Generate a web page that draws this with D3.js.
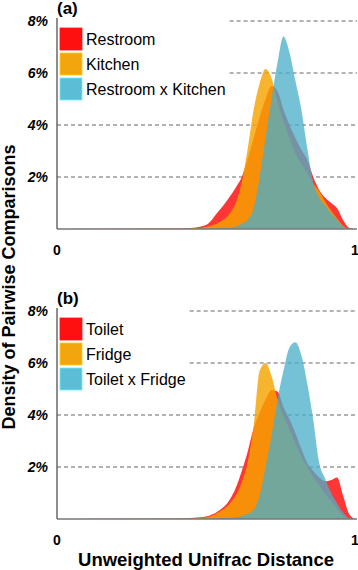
<!DOCTYPE html>
<html>
<head>
<meta charset="utf-8">
<script src="https://cdn.jsdelivr.net/npm/d3@7"></script>
<style>
  body { margin: 0; background: #fff; }
  svg { display: block; font-family: "Liberation Sans", Arial, sans-serif; }
</style>
</head>
<body>
<script>
// distance grid shared by all curves
const distance = [0, 0.40, 0.46, 0.50, 0.54, 0.58, 0.60, 0.62, 0.64, 0.66, 0.68, 0.70, 0.72, 0.74,
  0.76, 0.78, 0.80, 0.82, 0.84, 0.86, 0.88, 0.90, 0.92, 0.94, 0.96, 0.98, 1.0];

// panel (a) densities, percent
const restroom = [0, 0.02, 0.05, 0.15, 0.65, 1.25, 1.6, 2.0, 2.7, 3.5, 4.3, 5.0, 5.5, 5.3,
  4.6, 4.0, 3.5, 3.05, 2.65, 2.0, 1.5, 1.2, 1.0, 0.8, 0.35, 0.05, 0];
const kitchen = [0, 0.01, 0.03, 0.08, 0.23, 0.6, 1.0, 1.8, 3.1, 4.6, 5.6, 6.15, 5.8, 4.9,
  4.15, 3.5, 2.9, 2.5, 2.15, 1.75, 1.45, 1.05, 0.7, 0.4, 0.12, 0.02, 0];
const restroomKitchen = [0, 0, 0, 0.01, 0.02, 0.05, 0.1, 0.2, 0.35, 0.8, 2.0, 3.5, 5.0, 6.4,
  7.4, 6.8, 5.7, 4.6, 3.1, 1.8, 1.2, 0.9, 0.6, 0.35, 0.1, 0.02, 0];

// panel (b) densities, percent
const toilet = [0, 0.02, 0.05, 0.1, 0.3, 0.75, 1.2, 1.85, 2.6, 3.5, 4.1, 4.6, 4.95, 4.9,
  4.3, 3.85, 3.3, 2.7, 2.15, 1.85, 1.6, 1.45, 1.5, 1.6, 0.9, 0.2, 0];
const fridge = [0, 0.01, 0.03, 0.06, 0.25, 0.6, 0.9, 1.4, 2.2, 3.6, 5.7, 6.0, 5.5, 4.6,
  3.95, 3.45, 2.9, 2.4, 2.0, 1.6, 1.3, 0.95, 0.68, 0.4, 0.12, 0.02, 0];
const toiletFridge = [0, 0, 0, 0.01, 0.02, 0.04, 0.07, 0.12, 0.2, 0.35, 0.9, 2.0, 3.2, 4.6,
  5.7, 6.6, 6.8, 6.3, 5.2, 3.8, 2.15, 1.55, 1.0, 0.6, 0.25, 0.03, 0];

const legendA = ["Restroom", "Kitchen", "Restroom x Kitchen"];
const legendB = ["Toilet", "Fridge", "Toilet x Fridge"];
const yTicks = [2, 4, 6, 8];
const yTickLabels = ["2%", "4%", "6%", "8%"];
const xTicks = [0, 1];

var width = 358, height = 570;
var fills = ["#ff1a1a", "#f5a300", "#4aafc9"];
var opac = [0.88, 0.82, 0.76];
var swatch = ["#ff1010", "#f2a50c", "#5cbed6"];

var svg = d3.select("body").append("svg")
  .attr("width", width)
  .attr("height", height);

var x = d3.scaleLinear().domain([0, 1]).range([57, 355]);

function panel(top, base, label, names, series) {
  var y = d3.scaleLinear().domain([0, 8]).range([base, top]);
  var g = svg.append("g");

  // legend first so gridlines can start after it
  var leg = g.append("g");
  names.forEach(function(n, i) {
    leg.append("rect")
      .attr("x", 60).attr("y", top + 7 + i * 25)
      .attr("width", 22).attr("height", 22)
      .attr("fill", swatch[i])
      .attr("stroke", d3.color(swatch[i]).brighter(0.6))
      .attr("stroke-width", 0.8);
    leg.append("text")
      .attr("x", 86).attr("y", top + 24 + i * 25)
      .attr("font-size", 16)
      .text(n);
  });
  var legEnd = 0;
  leg.selectAll("text").each(function() {
    var b = this.getBBox();
    legEnd = Math.max(legEnd, b.x + b.width);
  });

  // dashed gridlines
  g.selectAll(".grid").data(yTicks).enter().append("line")
    .attr("x1", function(d) { return d >= 6 ? legEnd + 4 : x(0); })
    .attr("x2", 357)
    .attr("y1", function(d) { return y(d); })
    .attr("y2", function(d) { return y(d); })
    .attr("stroke", "#666")
    .attr("stroke-width", 1)
    .attr("stroke-dasharray", "4,3");

  // density curves
  var area = d3.area()
    .x(function(d) { return x(d[0]); })
    .y0(y(0))
    .y1(function(d) { return y(d[1]); })
    .curve(d3.curveMonotoneX);

  series.forEach(function(s, i) {
    g.append("path")
      .datum(d3.zip(distance, s))
      .attr("fill", fills[i])
      .attr("fill-opacity", opac[i])
      .attr("d", area);
  });

  // axes
  g.append("line")
    .attr("x1", x(0)).attr("x2", 357)
    .attr("y1", base).attr("y2", base)
    .attr("stroke", "#777").attr("stroke-width", 1.5);
  g.append("line")
    .attr("x1", x(0)).attr("x2", x(0))
    .attr("y1", top - 3).attr("y2", base)
    .attr("stroke", "#444").attr("stroke-width", 1.2);

  g.selectAll(".ytl").data(yTicks).enter().append("text")
    .attr("x", 48)
    .attr("y", function(d) { return y(d) + 5; })
    .attr("text-anchor", "end")
    .attr("font-size", 14)
    .attr("font-weight", "bold")
    .attr("font-style", "italic")
    .text(function(d, i) { return yTickLabels[i]; });

  g.selectAll(".xtl").data(xTicks).enter().append("text")
    .attr("x", function(d) { return x(d); })
    .attr("y", base + 26)
    .attr("text-anchor", "middle")
    .attr("font-size", 14)
    .attr("font-weight", "bold")
    .text(function(d) { return d; });

  g.append("text")
    .attr("x", 57).attr("y", top - 7)
    .attr("font-size", 17)
    .attr("font-weight", "bold")
    .text(label);
}

panel(21, 229, "(a)", legendA, [restroom, kitchen, restroomKitchen]);
panel(311, 519, "(b)", legendB, [toilet, fridge, toiletFridge]);

// axis titles
svg.append("text")
  .attr("transform", "translate(15,287) rotate(-90)")
  .attr("text-anchor", "middle")
  .attr("font-size", 18)
  .attr("font-weight", "bold")
  .text("Density of Pairwise Comparisons");

svg.append("text")
  .attr("x", 206).attr("y", 566)
  .attr("text-anchor", "middle")
  .attr("font-size", 18.5)
  .attr("font-weight", "bold")
  .text("Unweighted Unifrac Distance");
</script>
</body>
</html>
